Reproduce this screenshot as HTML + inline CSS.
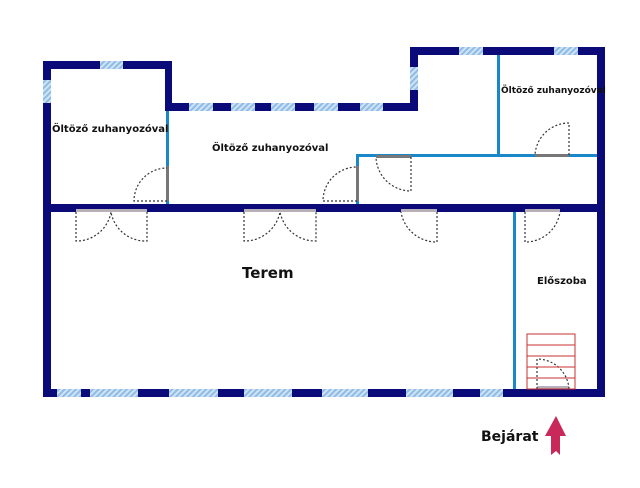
<!DOCTYPE html><html><head><style>body{margin:0;background:#fff}svg{display:block}text{font-family:"DejaVu Sans","Liberation Sans",sans-serif;font-weight:bold;fill:#111}</style></head><body>
<svg width="640" height="488" viewBox="0 0 640 488">
<defs><pattern id="h" width="4" height="4" patternUnits="userSpaceOnUse" patternTransform="rotate(45)"><rect width="4" height="4" fill="#cfe3f5"/><rect width="2" height="4" fill="#8fbce6"/></pattern></defs>
<g fill="#0a0a78">
<rect x="43" y="61" width="8" height="336"/>
<rect x="43" y="61" width="129" height="8"/>
<rect x="165" y="61" width="7" height="50"/>
<rect x="165" y="103" width="253" height="8"/>
<rect x="410" y="47" width="8" height="64"/>
<rect x="410" y="47" width="195" height="8"/>
<rect x="597" y="47" width="8" height="350"/>
<rect x="43" y="204" width="562" height="8"/>
<rect x="43" y="389" width="562" height="8"/>
</g>
<g fill="url(#h)">
<rect x="100" y="61" width="23" height="8"/>
<rect x="43" y="80" width="8" height="23"/>
<rect x="189" y="103" width="24" height="8"/><rect x="231" y="103" width="24" height="8"/><rect x="271" y="103" width="24" height="8"/><rect x="314" y="103" width="24" height="8"/><rect x="360" y="103" width="23" height="8"/>
<rect x="410" y="67" width="8" height="23"/>
<rect x="459" y="47" width="24" height="8"/><rect x="554" y="47" width="24" height="8"/>
<rect x="57" y="389" width="24" height="8"/><rect x="90" y="389" width="48" height="8"/><rect x="169" y="389" width="49" height="8"/><rect x="244" y="389" width="48" height="8"/><rect x="322" y="389" width="46" height="8"/><rect x="406" y="389" width="47" height="8"/><rect x="480" y="389" width="23" height="8"/>
</g>
<g fill="#1a88c8">
<rect x="166" y="111" width="3" height="93"/>
<rect x="356" y="155" width="3" height="49"/>
<rect x="356" y="154" width="241" height="3"/>
<rect x="497" y="55" width="3" height="100"/>
<rect x="513" y="212" width="3" height="177"/>
</g>
<g fill="#b8b0b8">
<rect x="76" y="209" width="71" height="3"/><rect x="244" y="209" width="72" height="3"/><rect x="401" y="209" width="36" height="3"/><rect x="525" y="209" width="35" height="3"/>
<rect x="537" y="386" width="32" height="3"/>
</g>
<g fill="#777"><rect x="166" y="166" width="3" height="35"/><rect x="356" y="166" width="3" height="35"/><rect x="376" y="155" width="35" height="3"/><rect x="535" y="154" width="34" height="3"/></g>
<g fill="none" stroke="#333" stroke-width="1.2" stroke-dasharray="2,2">
<path d="M76 212V241A35 35 0 0 0 111 212A35 35 0 0 0 147 241V212"/>
<path d="M244 212V241A36 36 0 0 0 280 212A36 36 0 0 0 316 241V212"/>
<path d="M437 212V242A36 36 0 0 1 401 212"/>
<path d="M525 212V242A35 35 0 0 0 560 212"/>
<path d="M167 201H134A33 33 0 0 1 167 168"/>
<path d="M357 201H323A34 34 0 0 1 357 167"/>
<path d="M411 157V191A35 35 0 0 1 376 157"/>
<path d="M569 155V123A34 34 0 0 0 535 155"/>
<path d="M537 389V359A32 32 0 0 1 569 389"/>
</g>
<g stroke="#c83030" stroke-width="1" fill="none"><rect x="527" y="334" width="48" height="55"/><path d="M527 345H575M527 356H575M527 367H575M527 378H575"/></g>
<text x="52" y="132" font-size="10">Öltöző zuhanyozóval</text>
<text x="212" y="151" font-size="10">Öltöző zuhanyozóval</text>
<text x="501" y="93" font-size="9">Öltöző zuhanyozóval</text>
<text x="242" y="278" font-size="15">Terem</text>
<text x="537" y="284" font-size="10">Előszoba</text>
<text x="481" y="441" font-size="14">Bejárat</text>
<path d="M556 416L566 436H560V455L556 451L551 455V436H545Z" fill="#c8285a"/>
</svg></body></html>
